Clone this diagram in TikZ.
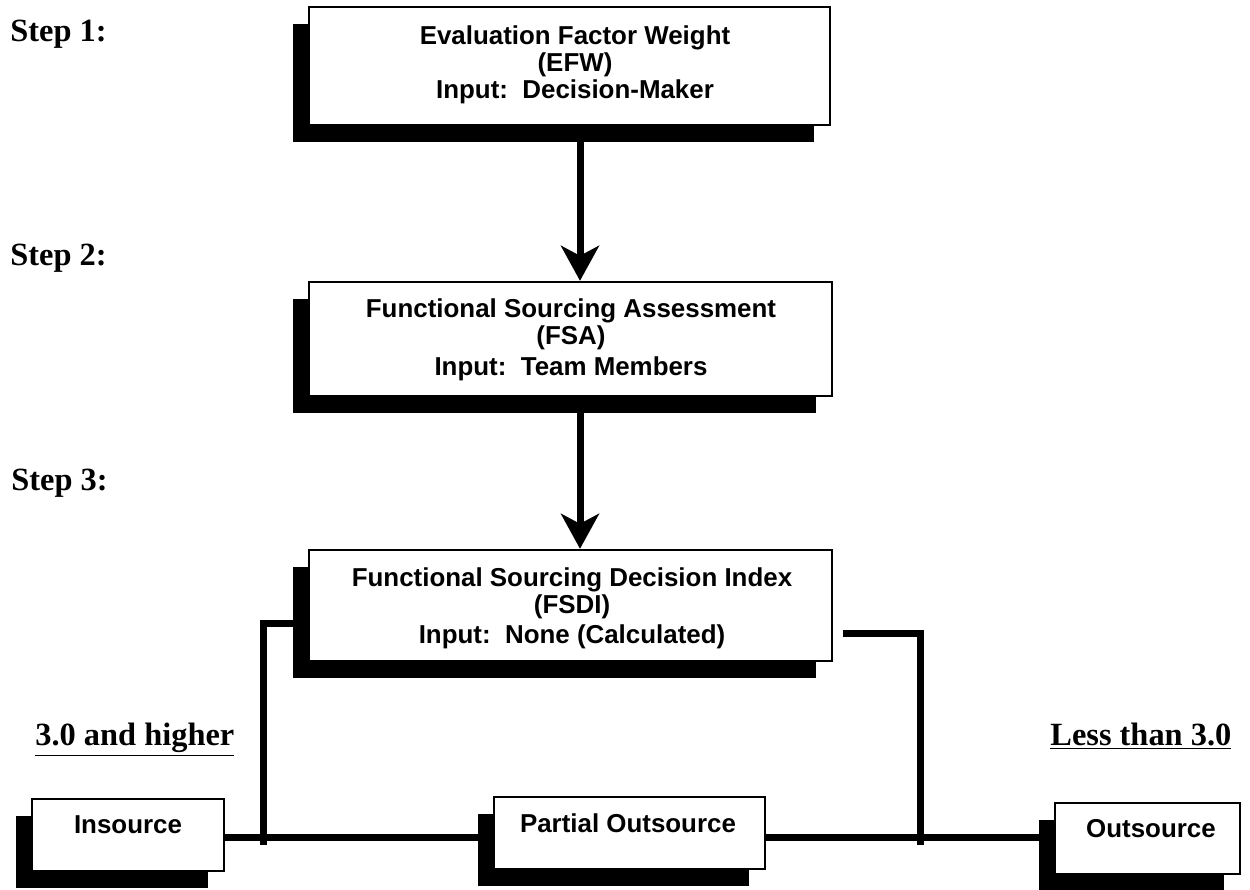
\documentclass[tikz,border=0pt]{standalone}
\usepackage{fontspec}
\setmainfont{Liberation Serif}
\setsansfont{Liberation Sans}
\usetikzlibrary{arrows.meta,positioning,calc,shadows}

\begin{document}
\begin{tikzpicture}[x=0.5pt, y=-0.5pt,
  box/.style={draw, line width=1.2pt, fill=white, inner sep=0pt,
    drop shadow={shadow xshift=-8pt, shadow yshift=-8.5pt, fill=black, opacity=1}},
  txt/.style={font=\sffamily\bfseries\fontsize{12.95}{13.5}\selectfont, align=center, inner sep=0pt},
  stepl/.style={font=\bfseries\fontsize{16.2}{18}\selectfont, anchor=base west, inner sep=0pt},
  flow/.style={line width=3.5pt, -{Stealth[length=17.5pt, width=19pt, inset=5pt]}},
  wire/.style={line width=3.5pt}]
\useasboundingbox (0,0) rectangle (1250,890);
\node[stepl] (s1) at (10,41) {Step 1:};
\node[stepl] (s2) at (10,265) {Step 2:};
\node[stepl] (s3) at (11,490) {Step 3:};
\node[box, minimum width=260.5pt, minimum height=59pt] (efw) at (569.5,66) {};
\node[txt, anchor=north] (efwt) at (575,25) {Evaluation Factor Weight\\(EFW)\\Input:~~Decision-Maker};
\node[box, minimum width=261.5pt, minimum height=57pt] (fsa) at (570.5,339) {};
\node[txt, anchor=north] (fsat) at (571,298) {Functional Sourcing Assessment\\(FSA)\\[2pt]Input:~~Team Members};
\node[box, minimum width=261.5pt, minimum height=55.5pt] (fsdi) at (570.5,605.5) {};
\node[txt, anchor=north] (fsdit) at (572,567) {Functional Sourcing Decision Index\\(FSDI)\\[1.5pt]Input:~~None (Calculated)};
\node[stepl] (hi) at (35,745) {\underline{3.0 and higher}};
\node[stepl] (lo) at (1050,745) {\underline{Less than 3.0}};
\node[box, minimum width=96pt, minimum height=36pt] (ins) at (128,835) {};
\node[txt] (inst) at (128,825) {Insource};
\node[box, minimum width=135.5pt, minimum height=36pt] (part) at (629.5,833) {};
\node[txt] (partt) at (628,823) {Partial Outsource};
\node[box, minimum width=92.5pt, minimum height=35.5pt] (outs) at (1147.5,838.5) {};
\node[txt] (outst) at (1151,829) {Outsource};
\coordinate (ax) at (580,0);
\coordinate (jl) at (263,837);
\coordinate (jr) at (920,837);
\draw[flow] (efw.south -| ax) -- (fsa.north -| ax);
\draw[flow] (fsa.south -| ax) -- (fsdi.north -| ax);
\draw[wire] ([yshift=-8.75pt]fsdi.west) -| ([yshift=-4pt]jl);
\draw[wire] ([xshift=5pt, yshift=-13.75pt]fsdi.east) -| ([yshift=-4pt]jr);
\draw[wire] (ins.east |- jl) -- (part.west |- jl);
\draw[wire] (part.east |- jr) -- (outs.west |- jr);
\end{tikzpicture}
\end{document}
